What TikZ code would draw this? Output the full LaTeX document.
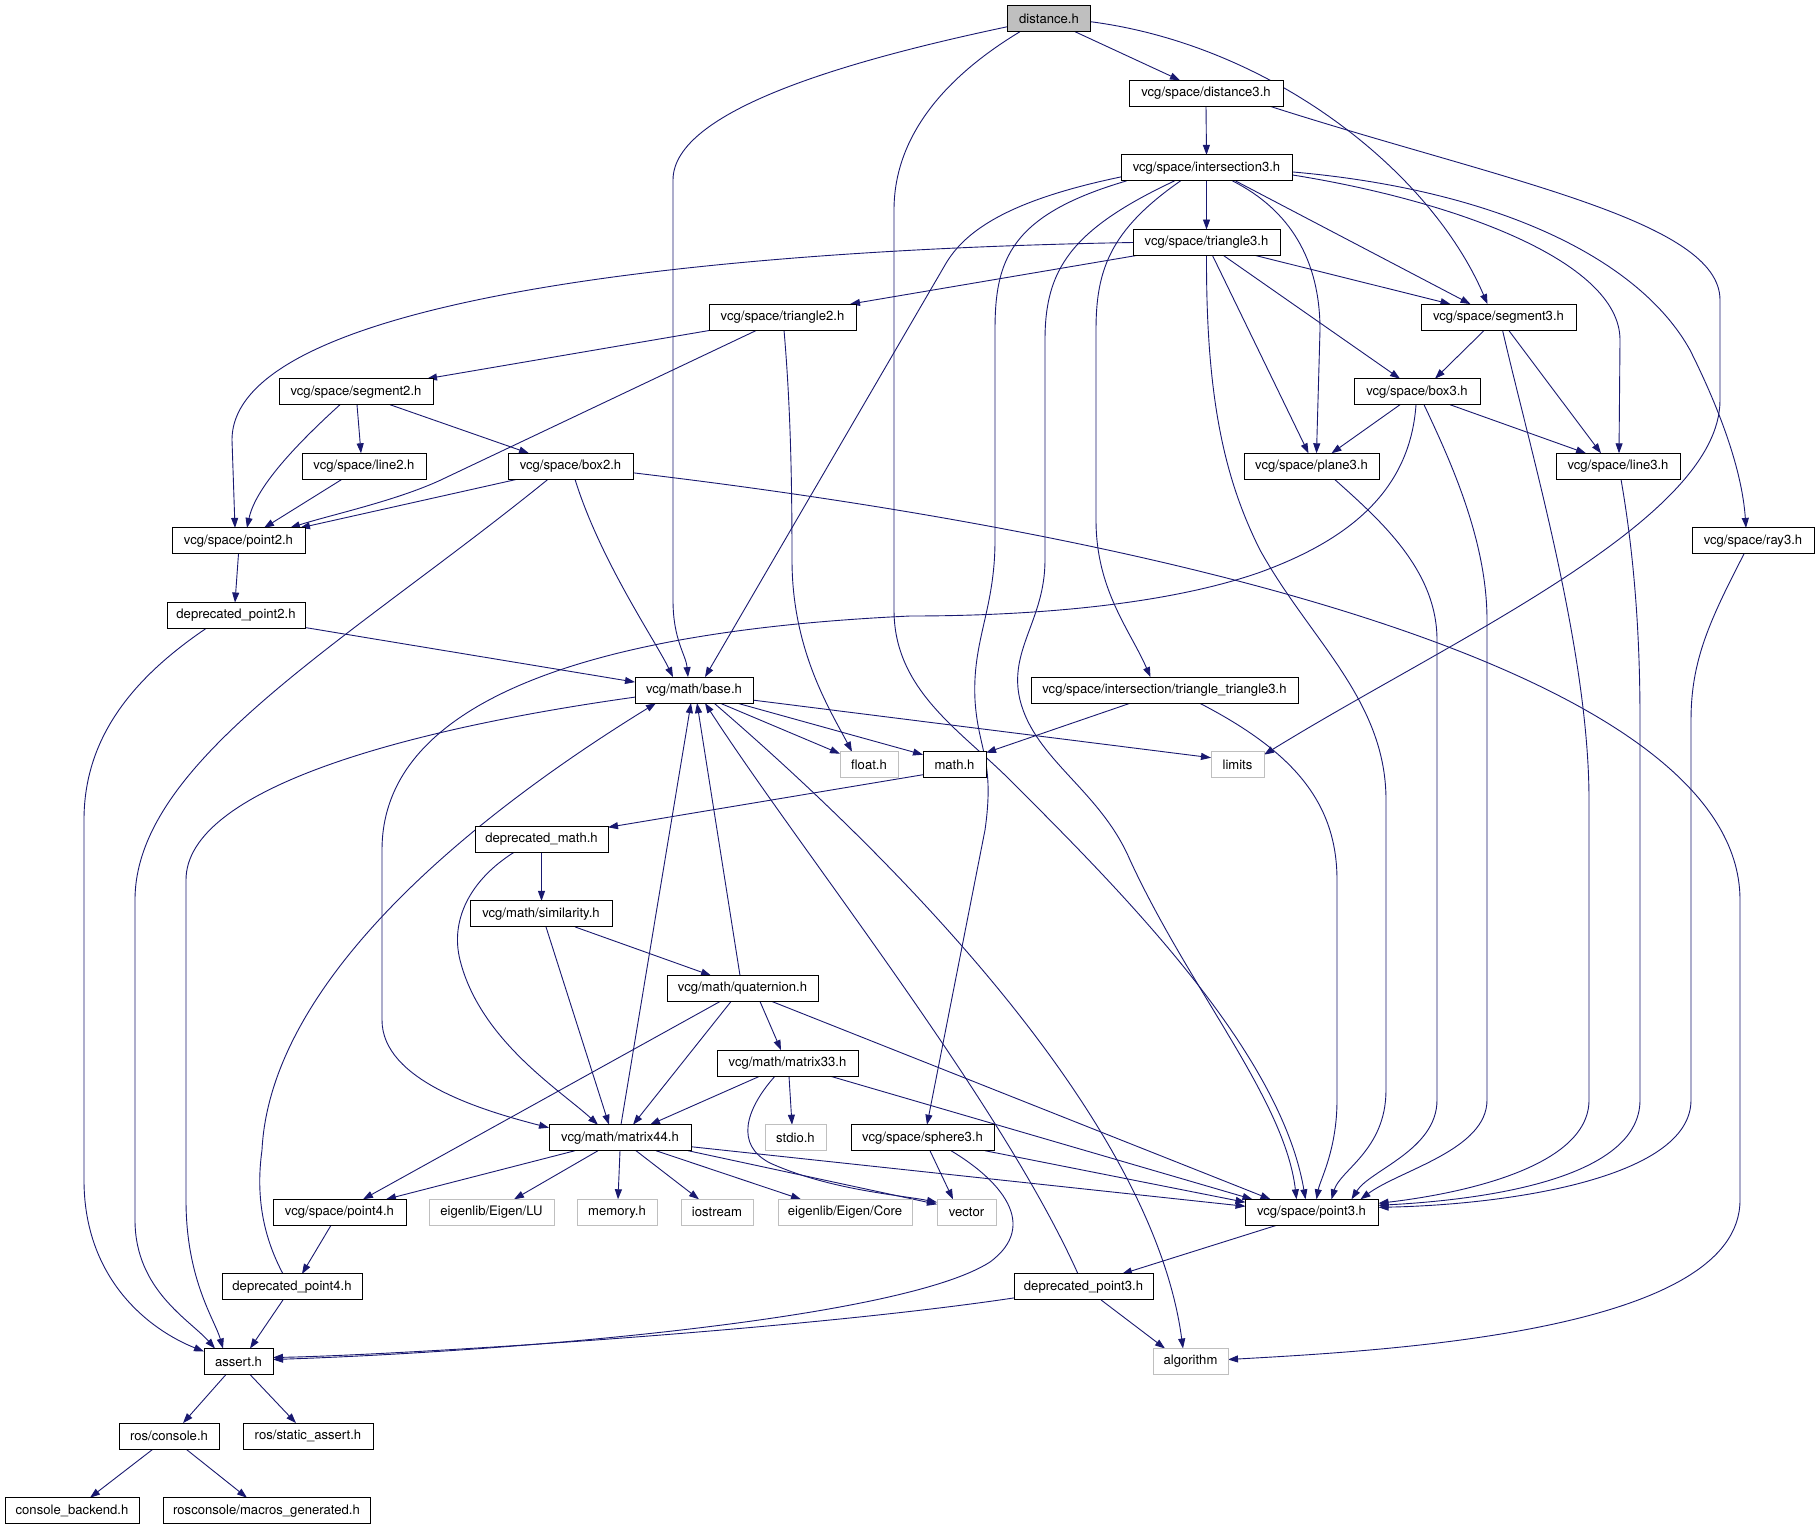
\documentclass[tikz,border=0pt]{standalone}
\usepackage{fontspec}
\setmainfont{TeX Gyre Heros}
\usetikzlibrary{arrows.meta,calc,backgrounds}
\definecolor{edgecol}{RGB}{25,25,112}
\definecolor{grayborder}{RGB}{191,191,191}
\definecolor{grayfill}{RGB}{191,191,191}
\begin{document}
\begin{tikzpicture}[x=1pt,y=-1pt,
  box/.style={draw=black, line width=1pt, fill=white, minimum height=26pt, inner sep=0pt, font=\fontsize{13.1}{15}\selectfont, text=black},
  gbox/.style={box, draw=grayborder},
  e/.style={draw=edgecol, line width=0.9pt, -{Triangle[length=10pt,width=7pt]}}]
\useasboundingbox (0,0) rectangle (1820,1531);
% nodes
\node[box, fill=grayfill, minimum width=83pt] (dist) at (1049,18.7) {distance.h};
\node[box, minimum width=154pt] (d3) at (1206,93.3) {vcg/space/distance3.h};
\node[box, minimum width=171pt] (i3) at (1206.5,167.9) {vcg/space/intersection3.h};
\node[box, minimum width=147pt] (t3) at (1206.5,242.5) {vcg/space/triangle3.h};
\node[box, minimum width=155pt] (s3) at (1498.5,317.1) {vcg/space/segment3.h};
\node[box, minimum width=147pt] (t2) at (782.5,317.1) {vcg/space/triangle2.h};
\node[box, minimum width=154pt] (s2) at (356,391.7) {vcg/space/segment2.h};
\node[box, minimum width=126pt] (b3) at (1417,391.7) {vcg/space/box3.h};
\node[box, minimum width=124pt] (l2) at (364,466.3) {vcg/space/line2.h};
\node[box, minimum width=125pt] (b2) at (570.5,466.3) {vcg/space/box2.h};
\node[box, minimum width=135pt] (p3) at (1311.5,466.3) {vcg/space/plane3.h};
\node[box, minimum width=124pt] (l3) at (1618,466.3) {vcg/space/line3.h};
\node[box, minimum width=133pt] (p2) at (238.5,540.9) {vcg/space/point2.h};
\node[box, minimum width=122pt] (ray3) at (1753,540.9) {vcg/space/ray3.h};
\node[box, minimum width=138pt] (dp2) at (236,615.5) {deprecated\_point2.h};
\node[box, minimum width=118pt] (base) at (694,690.1) {vcg/math/base.h};
\node[box, minimum width=267pt] (tt3) at (1164.5,690.1) {vcg/space/intersection/triangle\_triangle3.h};
\node[gbox, minimum width=58pt] (flt) at (869,764.7) {float.h};
\node[box, minimum width=63pt] (math) at (954.5,764.7) {math.h};
\node[gbox, minimum width=53pt] (lim) at (1237.5,764.7) {limits};
\node[box, minimum width=133pt] (dmath) at (541.5,839.3) {deprecated\_math.h};
\node[box, minimum width=142pt] (sim) at (541,913.9) {vcg/math/similarity.h};
\node[box, minimum width=151pt] (quat) at (742.5,988.5) {vcg/math/quaternion.h};
\node[box, minimum width=141pt] (m33) at (787.5,1063.1) {vcg/math/matrix33.h};
\node[box, minimum width=142pt] (m44) at (620,1137.7) {vcg/math/matrix44.h};
\node[gbox, minimum width=61pt] (stdio) at (795.5,1137.7) {stdio.h};
\node[box, minimum width=143pt] (sph) at (922.5,1137.7) {vcg/space/sphere3.h};
\node[box, minimum width=133pt] (pt4) at (339.5,1212.3) {vcg/space/point4.h};
\node[gbox, minimum width=125pt] (lu) at (491.5,1212.3) {eigenlib/Eigen/LU};
\node[gbox, minimum width=80pt] (mem) at (617,1212.3) {memory.h};
\node[gbox, minimum width=72pt] (ios) at (717,1212.3) {iostream};
\node[gbox, minimum width=134pt] (core) at (845,1212.3) {eigenlib/Eigen/Core};
\node[gbox, minimum width=59pt] (vec) at (966.5,1212.3) {vector};
\node[box, minimum width=133pt] (pt3) at (1311.5,1212.3) {vcg/space/point3.h};
\node[box, minimum width=140pt] (dp4) at (292,1286.9) {deprecated\_point4.h};
\node[box, minimum width=139pt] (dp3) at (1083.5,1286.9) {deprecated\_point3.h};
\node[gbox, minimum width=75pt] (alg) at (1190.5,1361.5) {algorithm};
\node[box, minimum width=69pt] (asrt) at (238.5,1361.5) {assert.h};
\node[box, minimum width=100pt] (rcon) at (169,1436.1) {ros/console.h};
\node[box, minimum width=130pt] (rsa) at (308,1436.1) {ros/static\_assert.h};
\node[box, minimum width=134pt] (cb) at (72,1510.7) {console\_backend.h};
\node[box, minimum width=207pt] (mg) at (266.5,1510.7) {rosconsole/macros\_generated.h};
% edges
\begin{scope}[on background layer]
\fill[white] (0,0) rectangle (1820,1531);
\draw[e] ($(dist.center)+(26,13)$) -- ($(d3.center)+(-26,-13)$);
\draw[e] ($(dist.center)+(41.5,3)$) .. controls (1270,45) and (1430,170) .. ($(s3.center)+(-11,-13)$);
\draw[e] ($(dist.center)+(-41.5,8)$) .. controls (850,60) and (673,110) .. (673,180) -- (673,600) .. controls (673,640) and (686,655) .. ($(base.center)+(-6,-13)$);
\draw[e] ($(dist.center)+(-29,13)$) .. controls (940,80) and (894,140) .. (894,210) -- (894,610) .. controls (894,690) and (960,730) .. (1010,780) .. controls (1120,890) and (1280,1050) .. ($(pt3.center)+(-6,-13)$);
\draw[e] ($(d3.center)+(0,13)$) -- ($(i3.center)+(0,-13)$);
\draw[e] ($(d3.center)+(64,13)$) .. controls (1500,180) and (1720,220) .. (1720,300) -- (1720,400) .. controls (1720,520) and (1450,640) .. ($(lim.center)+(26.5,-10)$);
\draw[e] ($(i3.center)+(0,13)$) -- ($(t3.center)+(0,-13)$);
\draw[e] ($(i3.center)+(-85.5,9)$) .. controls (1010,200) and (965,230) .. (945,265) -- ($(base.center)+(11,-13)$);
\draw[e] ($(i3.center)+(-80,13)$) .. controls (1010,215) and (995,260) .. (995,330) -- (995,540) .. controls (995,610) and (972,640) .. (975,700) .. controls (978,750) and (995,760) .. (985,830) -- ($(sph.center)+(4.5,-13)$);
\draw[e] ($(i3.center)+(-32,13)$) .. controls (1070,230) and (1045,270) .. (1045,340) -- (1045,560) .. controls (1045,620) and (1008,650) .. (1020,700) .. controls (1035,760) and (1100,790) .. (1130,860) .. controls (1190,990) and (1285,1100) .. ($(pt3.center)+(-15,-13)$);
\draw[e] ($(i3.center)+(-26,13)$) .. controls (1110,230) and (1096,270) .. (1096,330) -- (1096,520) .. controls (1096,590) and (1130,630) .. ($(tt3.center)+(-14,-13)$);
\draw[e] ($(i3.center)+(26,13)$) .. controls (1290,210) and (1320,260) .. (1320,330) -- ($(p3.center)+(5,-13)$);
\draw[e] ($(i3.center)+(29,13)$) -- ($(s3.center)+(-28,-13)$);
\draw[e] ($(i3.center)+(85.5,7)$) .. controls (1450,200) and (1620,260) .. (1620,340) -- ($(l3.center)+(1,-13)$);
\draw[e] ($(i3.center)+(85.5,4)$) .. controls (1500,190) and (1640,260) .. (1690,350) .. controls (1720,410) and (1742,470) .. ($(ray3.center)+(-7,-13)$);
\draw[e] ($(t3.center)+(-73.5,0)$) .. controls (700,250) and (232,300) .. (232,440) -- ($(p2.center)+(-3.5,-13)$);
\draw[e] ($(t3.center)+(-70,13)$) -- ($(t2.center)+(67.5,-13)$);
\draw[e] ($(t3.center)+(49,13)$) -- ($(s3.center)+(-48,-13)$);
\draw[e] ($(t3.center)+(17,13)$) -- ($(b3.center)+(-17,-13)$);
\draw[e] ($(t3.center)+(6,13)$) -- ($(p3.center)+(-3,-13)$);
\draw[e] ($(t3.center)+(0,13)$) .. controls (1206,400) and (1225,480) .. (1260,550) .. controls (1310,640) and (1386,700) .. (1386,800) -- (1386,1090) .. controls (1386,1150) and (1340,1170) .. ($(pt3.center)+(20,-13)$);
\draw[e] ($(t2.center)+(-71,13)$) -- ($(s2.center)+(71,-13)$);
\draw[e] ($(t2.center)+(-25.5,13)$) -- (445,478) .. controls (400,500) and (330,515) .. ($(p2.center)+(51.5,-13)$);
\draw[e] ($(t2.center)+(1.5,13)$) .. controls (790,400) and (792,470) .. (792,560) .. controls (792,650) and (830,710) .. ($(flt.center)+(-17,-13)$);
\draw[e] ($(s2.center)+(-16,13)$) .. controls (290,450) and (255,490) .. ($(p2.center)+(8.5,-13)$);
\draw[e] ($(s2.center)+(1,13)$) -- ($(l2.center)+(-3,-13)$);
\draw[e] ($(s2.center)+(34,13)$) -- ($(b2.center)+(-41.5,-13)$);
\draw[e] ($(l2.center)+(-22,13)$) -- ($(p2.center)+(25.5,-13)$);
\draw[e] ($(b2.center)+(-53.5,13)$) -- ($(p2.center)+(61.5,-13)$);
\draw[e] ($(b2.center)+(-22.5,13)$) .. controls (350,640) and (135,760) .. (135,900) -- (135,1220) .. controls (135,1290) and (190,1320) .. ($(asrt.center)+(-23.5,-13)$);
\draw[e] ($(b2.center)+(4.5,13)$) .. controls (600,560) and (655,640) .. ($(base.center)+(-21,-13)$);
\draw[e] ($(b2.center)+(62.5,6.5)$) .. controls (1200,540) and (1740,680) .. (1740,900) -- (1740,1200) .. controls (1740,1330) and (1400,1350) .. ($(alg.center)+(37.5,-2)$);
\draw[e] ($(s3.center)+(-14,13)$) -- ($(b3.center)+(18,-13)$);
\draw[e] ($(s3.center)+(10,13)$) -- ($(l3.center)+(-17,-13)$);
\draw[e] ($(s3.center)+(4,13)$) .. controls (1530,450) and (1589,650) .. (1589,800) -- (1589,1100) .. controls (1589,1170) and (1450,1195) .. ($(pt3.center)+(67,-9)$);
\draw[e] ($(b3.center)+(-17,13)$) -- ($(p3.center)+(20,-13)$);
\draw[e] ($(b3.center)+(33,13)$) -- ($(l3.center)+(-32,-13)$);
\draw[e] ($(b3.center)+(-1,13)$) .. controls (1410,490) and (1350,540) .. (1258,573) .. controls (1150,610) and (1000,616) .. (910,616) .. controls (720,625) and (382,660) .. (382,850) -- (382,1020) .. controls (382,1080) and (480,1110) .. ($(m44.center)+(-71,-10)$);
\draw[e] ($(b3.center)+(7,13)$) .. controls (1450,460) and (1487,540) .. (1487,620) -- (1487,1100) .. controls (1487,1150) and (1400,1170) .. ($(pt3.center)+(49,-13)$);
\draw[e] ($(p3.center)+(23,13)$) .. controls (1380,520) and (1437,570) .. (1437,640) -- (1437,1100) .. controls (1437,1150) and (1370,1170) .. ($(pt3.center)+(40,-13)$);
\draw[e] ($(l3.center)+(3,13)$) .. controls (1635,560) and (1640,640) .. (1640,720) -- (1640,1100) .. controls (1640,1180) and (1480,1200) .. ($(pt3.center)+(67,-7)$);
\draw[e] ($(ray3.center)+(-9,13)$) .. controls (1710,620) and (1691,660) .. (1691,720) -- (1691,1100) .. controls (1691,1180) and (1500,1205) .. ($(pt3.center)+(67,-5)$);
\draw[e] ($(tt3.center)+(35,13)$) .. controls (1290,750) and (1337,800) .. (1337,880) -- (1337,1100) .. controls (1337,1150) and (1320,1180) .. ($(pt3.center)+(5,-13)$);
\draw[e] ($(tt3.center)+(-34,13)$) -- ($(math.center)+(31.5,-12)$);
\draw[e] ($(p2.center)+(0,13)$) -- ($(dp2.center)+(-1,-13)$);
\draw[e] ($(dp2.center)+(69,12)$) -- ($(base.center)+(-59,-8)$);
\draw[e] ($(dp2.center)+(-30,13)$) .. controls (130,680) and (84,740) .. (84,820) -- (84,1180) .. controls (84,1280) and (150,1330) .. ($(asrt.center)+(-34.5,-10)$);
\draw[e] ($(base.center)+(-59,7)$) .. controls (400,730) and (186,790) .. (186,880) -- (186,1200) .. controls (186,1280) and (215,1320) .. ($(asrt.center)+(-15.5,-13)$);
\draw[e] ($(base.center)+(26,13)$) -- ($(flt.center)+(-29,-11)$);
\draw[e] ($(base.center)+(43,13)$) -- ($(math.center)+(-31.5,-10)$);
\draw[e] ($(base.center)+(59,10)$) -- ($(lim.center)+(-26.5,-7)$);
\draw[e] ($(base.center)+(20,13)$) .. controls (850,820) and (1150,1100) .. ($(alg.center)+(-7.5,-13)$);
\draw[e] ($(math.center)+(-31.5,10)$) -- ($(dmath.center)+(66.5,-12)$);
\draw[e] ($(dmath.center)+(0,13)$) -- ($(sim.center)+(0.5,-13)$);
\draw[e] ($(dmath.center)+(-27.5,13)$) .. controls (470,880) and (450,920) .. (460,960) .. controls (480,1040) and (560,1090) .. ($(m44.center)+(-22,-13)$);
\draw[e] ($(sim.center)+(34,13)$) -- ($(quat.center)+(-31.5,-13)$);
\draw[e] ($(sim.center)+(5,13)$) -- ($(m44.center)+(-11,-13)$);
\draw[e] ($(quat.center)+(-2.5,-13)$) -- ($(base.center)+(3,13)$);
\draw[e] ($(quat.center)+(17.5,13)$) -- ($(m33.center)+(-6.5,-13)$);
\draw[e] ($(quat.center)+(-11.5,13)$) -- ($(m44.center)+(13,-13)$);
\draw[e] ($(quat.center)+(-22.5,13)$) -- ($(pt4.center)+(23.5,-13)$);
\draw[e] ($(quat.center)+(29.5,13)$) -- ($(pt3.center)+(-41,-13)$);
\draw[e] ($(m33.center)+(-27.5,13)$) -- ($(m44.center)+(30,-13)$);
\draw[e] ($(m33.center)+(1.5,13)$) -- ($(stdio.center)+(-3.5,-13)$);
\draw[e] ($(m33.center)+(-12.5,13)$) .. controls (745,1110) and (735,1145) .. (770,1163) .. controls (830,1190) and (900,1195) .. ($(vec.center)+(-29.5,-10)$);
\draw[e] ($(m33.center)+(42.5,13)$) -- ($(pt3.center)+(-59,-13)$);
\draw[e] ($(m44.center)+(1,-13)$) -- ($(base.center)+(-3,13)$);
\draw[e] ($(m44.center)+(-45,13)$) -- ($(pt4.center)+(46.5,-13)$);
\draw[e] ($(m44.center)+(-22,13)$) -- ($(lu.center)+(22.5,-13)$);
\draw[e] ($(m44.center)+(0,13)$) -- ($(mem.center)+(1,-13)$);
\draw[e] ($(m44.center)+(16,13)$) -- ($(ios.center)+(-18,-13)$);
\draw[e] ($(m44.center)+(36,13)$) -- ($(core.center)+(-44,-13)$);
\draw[e] ($(m44.center)+(68,13)$) -- ($(vec.center)+(-29.5,-8)$);
\draw[e] ($(m44.center)+(71,9)$) -- ($(pt3.center)+(-66,-6)$);
\draw[e] ($(sph.center)+(7.5,13)$) -- ($(vec.center)+(-13.5,-13)$);
\draw[e] ($(sph.center)+(62.5,13)$) -- ($(pt3.center)+(-66,-10)$);
\draw[e] ($(sph.center)+(28.5,13)$) .. controls (1000,1180) and (1040,1225) .. (990,1262) .. controls (900,1320) and (500,1352) .. ($(asrt.center)+(34.5,-2)$);
\draw[e] ($(pt4.center)+(-8.5,13)$) -- ($(dp4.center)+(10,-13)$);
\draw[e] ($(dp4.center)+(-9,-13)$) .. controls (265,1240) and (255,1200) .. (262,1150) .. controls (270,990) and (450,830) .. ($(base.center)+(-38,13)$);
\draw[e] ($(dp4.center)+(-9,13)$) -- ($(asrt.center)+(11.5,-13)$);
\draw[e] ($(pt3.center)+(-35,13)$) -- ($(dp3.center)+(38.5,-13)$);
\draw[e] ($(dp3.center)+(-5.5,-13)$) .. controls (1000,1100) and (800,850) .. ($(base.center)+(11,13)$);
\draw[e] ($(dp3.center)+(17.5,13)$) -- ($(alg.center)+(-25.5,-13)$);
\draw[e] ($(dp3.center)+(-69.5,11)$) .. controls (800,1330) and (400,1355) .. ($(asrt.center)+(34.5,-4)$);
\draw[e] ($(asrt.center)+(-12.5,13)$) -- ($(rcon.center)+(14,-13)$);
\draw[e] ($(asrt.center)+(11.5,13)$) -- ($(rsa.center)+(-12,-13)$);
\draw[e] ($(rcon.center)+(-16,13)$) -- ($(cb.center)+(18,-13)$);
\draw[e] ($(rcon.center)+(17,13)$) -- ($(mg.center)+(-19.5,-13)$);
\end{scope}
\end{tikzpicture}
\end{document}
